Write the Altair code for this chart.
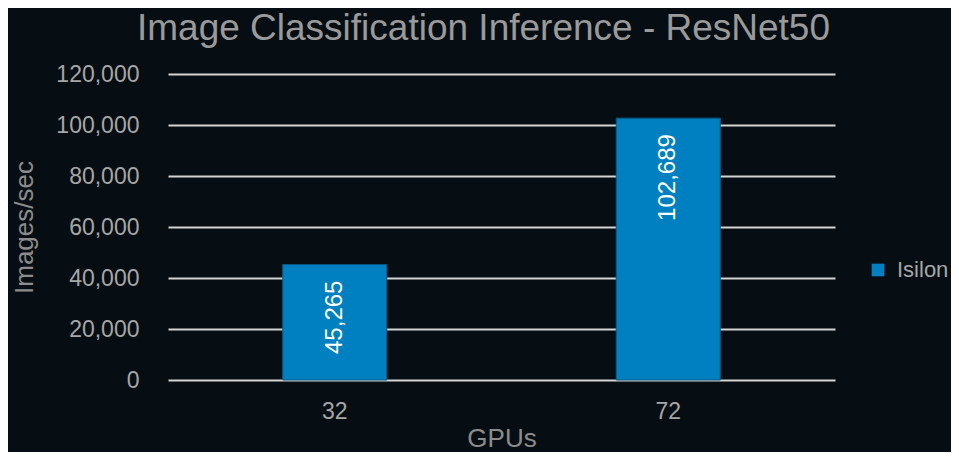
import altair as alt
import pandas as pd

gpus = ["32", "72"]
images_per_sec = [45265, 102689]
series = ["Isilon", "Isilon"]
y_ticks = [0, 20000, 40000, 60000, 80000, 100000, 120000]

df = pd.DataFrame({"GPUs": gpus, "value": images_per_sec, "series": series})
df["label"] = [f"{v:,}" for v in images_per_sec]

FONT = "Liberation Sans"

x_enc = alt.X("GPUs:N", sort=gpus,
              axis=alt.Axis(title="GPUs", labelAngle=0, ticks=False, tickSize=0, domain=False,
                            labelPadding=20, labelFontSize=23, labelColor="#a6a6a6",
                            labelFont=FONT, titleFont=FONT, titleFontSize=26,
                            titleColor="#8c8c8c", titleFontWeight="normal",
                            titleY=66, titleBaseline="alphabetic"))
y_enc = alt.Y("value:Q", scale=alt.Scale(domain=[0, 120000]),
              axis=alt.Axis(title="Images/sec", values=y_ticks, format=",d", ticks=False,
                            tickSize=0, domain=False, grid=True, gridColor="#d4d4d4",
                            gridWidth=2, labelPadding=29, labelFontSize=23,
                            labelColor="#a6a6a6", labelFont=FONT, titleFont=FONT,
                            titleFontSize=26, titleColor="#8c8c8c",
                            titleFontWeight="normal", titleX=-144, titleY=153,
                            titleAngle=270, titleAlign="center", titleBaseline="middle"))

base = alt.Chart(df)

bars = base.mark_bar(size=104, stroke="#0b5a84", strokeWidth=1).encode(
    x=x_enc,
    y=y_enc,
    color=alt.Color("series:N", scale=alt.Scale(range=["#0080c0"]),
                    legend=alt.Legend(title=None, orient="none", legendX=699, legendY=185,
                                      symbolType="square", symbolSize=160,
                                      symbolStrokeWidth=0,
                                      labelFontSize=22, labelColor="#a6a6a6",
                                      labelFont=FONT, padding=0, labelOffset=8)),
)

labels = base.mark_text(angle=270, align="right", baseline="middle", dx=-16,
                        fontSize=24, font=FONT, color="white").encode(
    x=x_enc,
    y=y_enc,
    text="label:N",
)

chart = alt.layer(bars, labels).properties(
    width=667, height=306,
    autosize=alt.AutoSizeParams(type="none"),
    padding={"left": 160, "top": 66, "right": 116, "bottom": 72},
    background="#070e13",
    title=alt.TitleParams("Image Classification Inference - ResNet50", fontSize=37,
                          font=FONT, color="#9a9a9a", fontWeight="normal",
                          anchor="middle", dx=-18, offset=15),
).configure_view(stroke=None).configure_axis(gridCap="butt")

chart.save("out.html", embed_options={"renderer": "svg", "actions": False})
